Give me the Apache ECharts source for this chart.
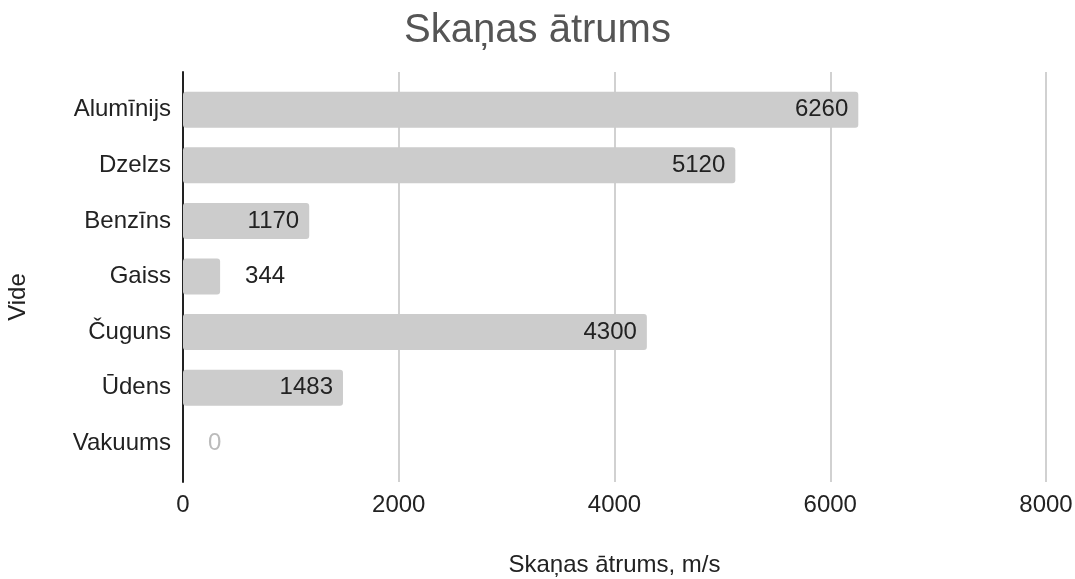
<!DOCTYPE html>
<html>
<head>
<meta charset="utf-8">
<script src="https://cdn.jsdelivr.net/npm/echarts@6/dist/echarts.min.js"></script>
<style>
html,body{margin:0;padding:0;background:#fff;}
#chart{width:1075px;height:579px;}
</style>
</head>
<body>
<div id="chart"></div>
<script>
const categories = ['Alumīnijs', 'Dzelzs', 'Benzīns', 'Gaiss', 'Čuguns', 'Ūdens', 'Vakuums'];
const speeds = [6260, 5120, 1170, 344, 4300, 1483, 0];
const xMin = 0;
const xMax = 8000;
const xStep = 2000;

const FONT = '"Liberation Sans", Arial, Helvetica, sans-serif';

const chart = echarts.init(document.getElementById('chart'), null, { renderer: 'canvas' });

const barData = speeds.map(function (v) {
  if (v < 800) {
    return {
      value: v,
      label: { position: 'right', distance: 25, color: v === 0 ? '#bbbbbb' : '#222222' }
    };
  }
  return { value: v };
});

const option = {
  backgroundColor: '#ffffff',
  animation: false,
  title: {
    text: 'Skaņas ātrums',
    left: 'center',
    top: 6,
    textStyle: { fontFamily: FONT, fontSize: 40, fontWeight: 'normal', color: '#555555' }
  },
  grid: [
    { left: 183, right: 29, top: 72, bottom: 97, containLabel: false, outerBoundsMode: 'none' },
    { left: 183, right: 29, top: 82, height: 389, containLabel: false, outerBoundsMode: 'none' }
  ],
  xAxis: [
    {
      gridIndex: 0,
      type: 'value',
      min: xMin,
      max: xMax,
      interval: xStep,
      axisLine: { show: false },
      axisTick: { show: false },
      splitLine: { show: true, lineStyle: { color: '#c2c2c2', width: 1.5 } },
      axisLabel: {
        fontFamily: FONT, fontSize: 24, color: '#222222', margin: 11,
        formatter: function (v) { return String(v); }
      },
      name: 'Skaņas ātrums, m/s',
      nameLocation: 'middle',
      nameGap: 71,
      nameTextStyle: { fontFamily: FONT, fontSize: 24, color: '#222222' }
    },
    {
      gridIndex: 1,
      type: 'value',
      min: xMin,
      max: xMax,
      show: false
    }
  ],
  yAxis: [
    {
      gridIndex: 0,
      type: 'value',
      min: 0,
      max: 1,
      axisLine: { show: true, lineStyle: { color: '#222222', width: 2 } },
      axisTick: { show: false },
      axisLabel: { show: false },
      splitLine: { show: false },
      name: 'Vide',
      nameLocation: 'middle',
      nameGap: 153,
      nameTextStyle: { fontFamily: FONT, fontSize: 24, color: '#222222', padding: [0, 40, 0, 0] }
    },
    {
      gridIndex: 1,
      type: 'category',
      inverse: true,
      data: categories,
      axisLine: { show: false },
      axisTick: { show: false },
      splitLine: { show: false },
      axisLabel: { fontFamily: FONT, fontSize: 24, color: '#222222', margin: 12 }
    }
  ],
  series: [
    {
      type: 'bar',
      xAxisIndex: 1,
      yAxisIndex: 1,
      data: barData,
      barWidth: 36,
      itemStyle: { color: '#cccccc', borderRadius: 3 },
      label: {
        show: true,
        position: 'insideRight',
        distance: 10,
        fontFamily: FONT,
        fontSize: 24,
        color: '#222222'
      }
    }
  ]
};

chart.setOption(option);
</script>
</body>
</html>
